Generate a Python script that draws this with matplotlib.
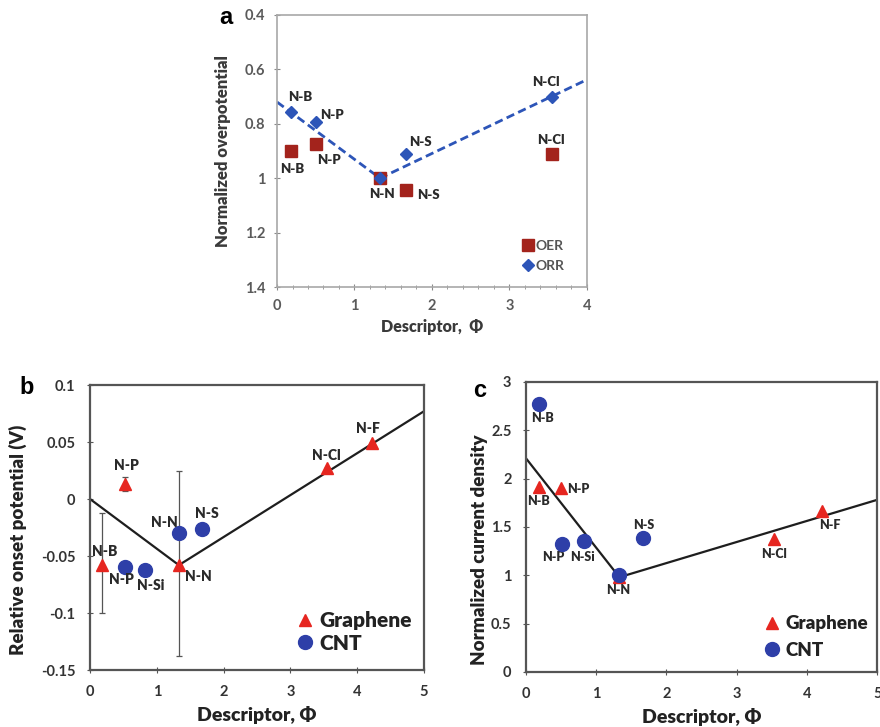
import numpy as np
import matplotlib.pyplot as plt
from matplotlib.ticker import MultipleLocator

plt.rcParams['font.family'] = ['Lato', 'DejaVu Sans']
plt.rcParams['font.weight'] = 'bold'

# panel a: normalized overpotential vs descriptor
a_names = ['N-B', 'N-P', 'N-N', 'N-S', 'N-Cl']
a_phi = [0.18, 0.50, 1.33, 1.67, 3.55]
a_oer = [0.90, 0.875, 1.00, 1.045, 0.91]
a_orr = [0.755, 0.795, 1.00, 0.91, 0.70]
a_fit_x = [0.0, 1.33, 4.0]
a_fit_y = [0.72, 1.00, 0.638]

# panel b: relative onset potential
b_gr_names = ['N-B', 'N-P', 'N-N', 'N-Cl', 'N-F']
b_gr_phi = [0.18, 0.52, 1.33, 3.55, 4.22]
b_gr_val = [-0.058, 0.013, -0.058, 0.027, 0.049]
b_gr_lo = [-0.100, 0.007, -0.138, 0.027, 0.049]
b_gr_hi = [-0.012, 0.019, 0.025, 0.027, 0.049]
b_cnt_names = ['N-P', 'N-Si', 'N-N', 'N-S']
b_cnt_phi = [0.52, 0.82, 1.33, 1.67]
b_cnt_val = [-0.060, -0.062, -0.030, -0.026]
b_fit_x = [0.0, 1.33, 5.0]
b_fit_y = [0.0, -0.058, 0.077]

# panel c: normalized current density
c_gr_names = ['N-B', 'N-P', 'N-N', 'N-Cl', 'N-F']
c_gr_phi = [0.18, 0.50, 1.33, 3.53, 4.22]
c_gr_val = [1.91, 1.90, 0.98, 1.38, 1.66]
c_cnt_names = ['N-B', 'N-P', 'N-Si', 'N-N', 'N-S']
c_cnt_phi = [0.18, 0.52, 0.82, 1.33, 1.67]
c_cnt_val = [2.77, 1.32, 1.35, 1.00, 1.39]
c_fit_x = [0.0, 1.33, 5.0]
c_fit_y = [2.21, 0.98, 1.78]

OER_RED = '#a3231c'
ORR_BLUE = '#2d55b8'
TRI_RED = '#e62620'
CNT_BLUE = '#2e3fa8'
TXT = '#2a2a2a'

fig = plt.figure(figsize=(8.8, 7.27), dpi=100)
ax_a = fig.add_axes([0.3148, 0.6052, 0.352, 0.3742])
ax_b = fig.add_axes([0.1023, 0.0784, 0.3795, 0.392])
ax_c = fig.add_axes([0.5977, 0.0757, 0.399, 0.399])


def label(ax, x, y, text, dx, dy, size=9.5):
    # dx, dy in pixels, dy positive = downwards
    ax.annotate(text, (x, y), xytext=(dx, -dy), textcoords='offset pixels',
                ha='center', va='center', fontsize=size, color=TXT,
                fontweight='heavy')


# ---- panel a ----
ax_a.plot(a_fit_x, a_fit_y, '--', color=ORR_BLUE, lw=2, dashes=(3, 1.6), zorder=2)
ax_a.plot(a_phi, a_oer, 's', color=OER_RED, ms=9, ls='none', label='OER', zorder=3)
ax_a.plot(a_phi, a_orr, 'D', color=ORR_BLUE, ms=6, ls='none', label='ORR', zorder=4)
ax_a.set_xlim(0, 4)
ax_a.set_ylim(1.4, 0.4)
ax_a.set_yticks([0.4, 0.6, 0.8, 1.0, 1.2, 1.4])
ax_a.set_yticklabels(['0.4', '0.6', '0.8', '1', '1.2', '1.4'])
ax_a.set_xticks([0, 1, 2, 3, 4])
ax_a.xaxis.set_minor_locator(MultipleLocator(0.2))
ax_a.tick_params(axis='x', which='both', direction='inout', length=5, color='#8a8a8a')
ax_a.tick_params(axis='x', which='minor', length=3)
ax_a.tick_params(axis='y', direction='inout', length=5, color='#8a8a8a')
ax_a.tick_params(labelsize=10.5, labelcolor='#5a5a5a', pad=6)
for s in ax_a.spines.values():
    s.set_color('#a8a8a8')
    s.set_linewidth(1.2)
ax_a.set_xlabel('Descriptor,  Φ', fontsize=11.5, color='#3a3a3a', fontweight='heavy')
ax_a.set_ylabel('Normalized overpotential', fontsize=12, color='#3a3a3a', fontweight='heavy')
ax_a.xaxis.set_label_coords(0.5, -0.118)
ax_a.yaxis.set_label_coords(-0.148, 0.5)

a_orr_off = [(9, -15), (16, -7), None, (14, -12), (-6, -15)]
a_oer_off = [(1, 18), (13, 16), (2, 16), (22, 5), (-1, -14)]
for i, name in enumerate(a_names):
    if a_orr_off[i]:
        label(ax_a, a_phi[i], a_orr[i], name, *a_orr_off[i])
    label(ax_a, a_phi[i], a_oer[i], name, *a_oer_off[i])

ax_a.legend(loc='lower left', bbox_to_anchor=(0.764, 0.02), frameon=False,
            fontsize=10, handlelength=0.6, handletextpad=0.3, borderpad=0.2,
            labelspacing=0.55, labelcolor='#555555')
fig.text(226 / 880, 1 - 18 / 727, 'a', fontsize=17, fontweight='bold',
         family='Liberation Sans', ha='center', va='center')

# ---- panel b ----
ax_b.plot(b_fit_x, b_fit_y, '-', color='#1e1e1e', lw=1.6, zorder=2)
gr_err = [np.array(b_gr_val) - np.array(b_gr_lo), np.array(b_gr_hi) - np.array(b_gr_val)]
ax_b.errorbar(b_gr_phi, b_gr_val, yerr=gr_err, fmt='none', ecolor='#555555',
              elinewidth=0.9, capsize=2.5, capthick=0.9, zorder=2)
ax_b.plot(b_gr_phi, b_gr_val, '^', color=TRI_RED, ms=8.5, ls='none', label='Graphene', zorder=4)
ax_b.plot(b_cnt_phi, b_cnt_val, 'o', color=CNT_BLUE, ms=10, ls='none', label='CNT', zorder=3)
ax_b.set_xlim(0, 5)
ax_b.set_ylim(-0.15, 0.1)
ax_b.set_yticks([-0.15, -0.1, -0.05, 0, 0.05, 0.1])
ax_b.set_yticklabels(['-0.15', '-0.1', '-0.05', '0', '0.05', '0.1'])
ax_b.set_xticks([0, 1, 2, 3, 4, 5])

b_gr_off = [(3, -14), (2, -19), (20, 11), (-1, -13), (-4, -15)]
b_cnt_off = [(-3, 12), (6, 16), (-14, -11), (5, -15)]
for i, name in enumerate(b_gr_names):
    label(ax_b, b_gr_phi[i], b_gr_val[i], name, *b_gr_off[i], size=10)
for i, name in enumerate(b_cnt_names):
    label(ax_b, b_cnt_phi[i], b_cnt_val[i], name, *b_cnt_off[i], size=10)

ax_b.legend(loc='lower left', bbox_to_anchor=(0.579, 0.01), frameon=False,
            prop={'size': 15, 'weight': 'heavy'}, handlelength=0.7,
            handletextpad=0.35, borderpad=0.2, labelspacing=0.15,
            labelcolor='#222222')
ax_b.set_ylabel('Relative onset potential (V)', fontsize=13.5, color='#222222', fontweight='heavy')
ax_b.yaxis.set_label_coords(-0.19, 0.456)
fig.text(27 / 880, 1 - 388 / 727, 'b', fontsize=17, fontweight='bold',
         family='Liberation Sans', ha='center', va='center')

# ---- panel c ----
ax_c.plot(c_fit_x, c_fit_y, '-', color='#1e1e1e', lw=1.6, zorder=2)
ax_c.plot(c_gr_phi, c_gr_val, '^', color=TRI_RED, ms=8.5, ls='none', label='Graphene', zorder=3)
ax_c.plot(c_cnt_phi, c_cnt_val, 'o', color=CNT_BLUE, ms=10, ls='none', label='CNT', zorder=4)
ax_c.set_xlim(0, 5)
ax_c.set_ylim(0, 3)
ax_c.set_yticks([0, 0.5, 1, 1.5, 2, 2.5, 3])
ax_c.set_yticklabels(['0', '0.5', '1', '1.5', '2', '2.5', '3'])
ax_c.set_xticks([0, 1, 2, 3, 4, 5])

c_gr_off = [(0, 14), (17, 1), None, (0, 15), (8, 14)]
c_cnt_off = [(4, 14), (-9, 13), (-1, 16), (-1, 15), (0, -13)]
for i, name in enumerate(c_gr_names):
    if c_gr_off[i]:
        label(ax_c, c_gr_phi[i], c_gr_val[i], name, *c_gr_off[i], size=9)
for i, name in enumerate(c_cnt_names):
    label(ax_c, c_cnt_phi[i], c_cnt_val[i], name, *c_cnt_off[i], size=9)

ax_c.legend(loc='lower left', bbox_to_anchor=(0.642, 0.0), frameon=False,
            prop={'size': 13.5, 'weight': 'heavy'}, handlelength=0.75,
            handletextpad=0.35, borderpad=0.2, labelspacing=0.5,
            labelcolor='#222222')
ax_c.set_ylabel('Normalized current density', fontsize=13.5, color='#222222', fontweight='heavy')
ax_c.yaxis.set_label_coords(-0.108, 0.42)
fig.text(480 / 880, 1 - 390 / 727, 'c', fontsize=17, fontweight='bold',
         family='Liberation Sans', ha='center', va='center')

for ax in (ax_b, ax_c):
    for s in ax.spines.values():
        s.set_color('#555555')
        s.set_linewidth(1.6)
    ax.tick_params(direction='inout', length=5, color='#555555',
                   labelsize=10.5, labelcolor='#333333', pad=8)
    ax.set_xlabel('Descriptor, Φ', fontsize=14, color='#222222', fontweight='heavy')
    ax.xaxis.set_label_coords(0.5, -0.125)

fig.savefig('out.png', dpi=100)
